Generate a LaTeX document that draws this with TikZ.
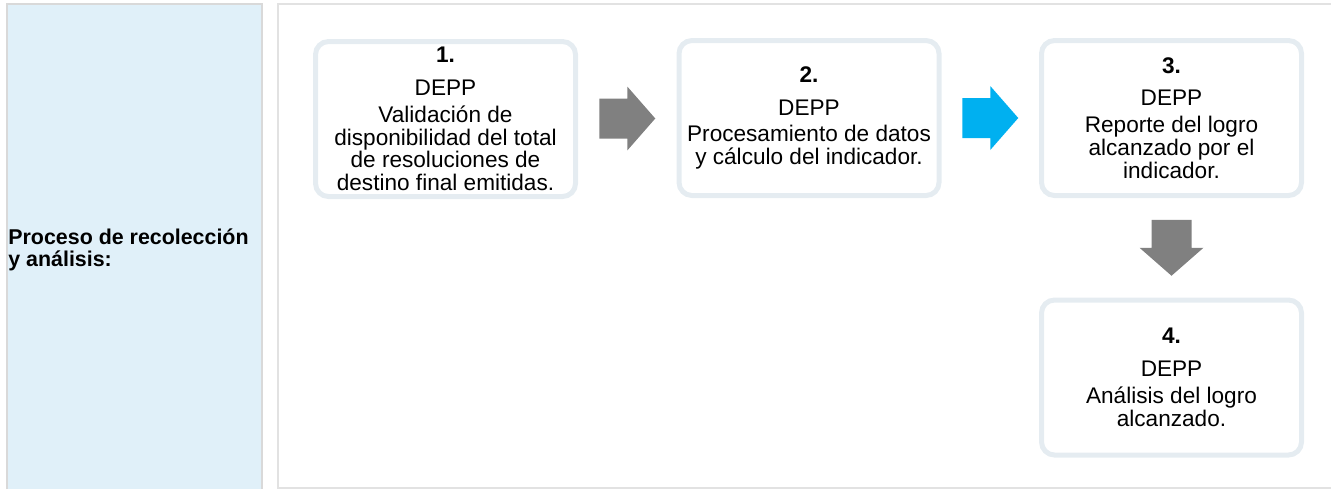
\documentclass[tikz,border=0pt]{standalone}
\usepackage{fontspec}
\setmainfont{Liberation Sans}
\usetikzlibrary{positioning, calc}
\definecolor{celeste}{RGB}{224,240,249}
\definecolor{bordecelda}{RGB}{217,217,217}
\definecolor{bordetabla}{RGB}{226,226,226}
\definecolor{bordepaso}{RGB}{229,236,241}
\definecolor{grisflecha}{RGB}{128,128,128}
\definecolor{azulflecha}{RGB}{0,176,240}

\begin{document}
\begin{tikzpicture}[x=0.5pt, y=-0.5pt,
		paso/.style={draw=bordepaso, line width=2.5pt, rounded corners=6.5pt,
			minimum width=130pt, minimum height=77.5pt, inner sep=0pt,
			align=center, font=\fontsize{11.3}{11.4}\selectfont},
		flecha/.pic={\fill (-28,-20) -- (0,-20) -- (0,-32) -- (28,0) -- (0,32) -- (0,20) -- (-28,20) -- cycle;}]
			\useasboundingbox (0,0) rectangle (1331,489);
			% celdas de la tabla
			\fill[celeste] (7,4) rectangle (262,489);
			\draw[bordecelda, line width=0.75pt] (7,489) -- (7,4) -- (262,4) -- (262,489);
			\draw[bordetabla, line width=0.75pt] (1340,4) -- (278,4) -- (278,488) -- (1340,488);
			\node[font=\bfseries\fontsize{10.7}{10.9}\selectfont, align=left, anchor=west, inner sep=0pt] (etiqueta) at (8,250) {Proceso de recolección\\y análisis:};
			% pasos
			\node[paso] (p1) at (445.5,119) {\textbf{1.}\\[5pt]DEPP\\[2pt]Validación de\\disponibilidad del total\\de resoluciones de\\destino final emitidas.};
			\node[paso] (p2) at (809,118) {\textbf{2.}\\[5pt]DEPP\\[2pt]Procesamiento de datos\\y cálculo del indicador.};
			\node[paso] (p3) at (1171.5,118) {\textbf{3.}\\[5pt]DEPP\\[2pt]Reporte del logro\\alcanzado por el\\indicador.};
			\node[paso] (p4) at (1171.5,377.5) {\textbf{4.}\\[5pt]DEPP\\[2pt]Análisis del logro\\alcanzado.};
			% flechas
			\coordinate (f12) at ($(p1.east)!0.5!(p2.west)$);
			\coordinate (f23) at ($(p2.east)!0.5!(p3.west)$);
			\coordinate (f34) at ($(p3.south)!0.5!(p4.north)$);
			\pic[fill=grisflecha] at (f12) {flecha};
			\pic[fill=azulflecha] at (f23) {flecha};
			\pic[fill=grisflecha, rotate=-90] at (f34) {flecha};
\end{tikzpicture}
\end{document}
